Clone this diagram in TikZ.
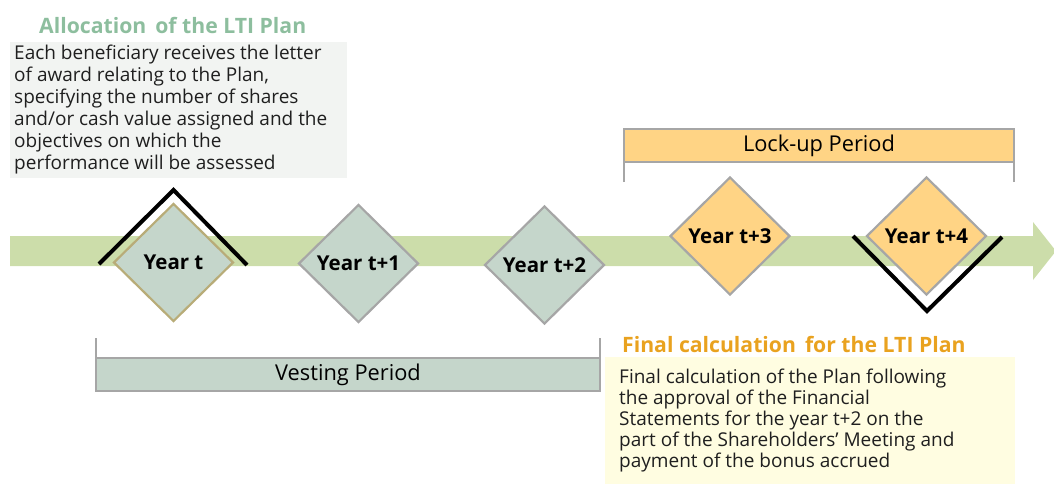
\documentclass[tikz,border=0pt]{standalone}
\usepackage{fontspec}
\setmainfont{Open Sans}
\usetikzlibrary{shapes.geometric}
\definecolor{bandgreen}{HTML}{CCDDAA}
\definecolor{dgreen}{HTML}{C5D6CB}
\definecolor{dorange}{HTML}{FFD485}
\definecolor{bordergray}{HTML}{A6A6A6}
\definecolor{tanborder}{HTML}{B8AC78}
\definecolor{titlegreen}{HTML}{8DBE9E}
\definecolor{titleorange}{HTML}{E9A21F}
\definecolor{graybox}{HTML}{F2F4F2}
\definecolor{yellowbox}{HTML}{FFFDE1}
\tikzset{
  yeardia/.style={diamond, draw=bordergray, line width=2.2pt, minimum width=120pt, minimum height=118pt, inner sep=0pt, font=\fontsize{20.5}{24}\selectfont\bfseries, text=black},
  bracket/.style={line width=4pt, black, line cap=butt, line join=miter},
  periodbar/.style={draw=bordergray, line width=2pt, inner sep=0pt, font=\fontsize{21.8}{24}\selectfont},
  body/.style={font=\fontsize{19}{22}\selectfont, inner sep=0pt, anchor=base west, text=black!88},
  ttl/.style={anchor=base west, inner sep=0pt, font=\fontsize{21.2}{24}\selectfont\bfseries},
}
\begin{document}
\begin{tikzpicture}[x=1pt,y=-1pt]
\useasboundingbox (0,0) rectangle (1054,485);
% arrow band
\fill[bandgreen] (10,236) -- (1033,236) -- (1033,222) -- (1056,251) -- (1033,280) -- (1033,266) -- (10,266) -- cycle;
% boxes
\fill[graybox] (10,42) rectangle (347,178);
\fill[yellowbox] (605,357) rectangle (1015,484);
% titles
\node[ttl, text=titlegreen] (t1) at (39,33) {Allocation\ \,of the LTI Plan};
\node[ttl, text=titleorange] (t2) at (622,352) {Final\ calculation\ \,for the LTI Plan};
% body texts
\node[body] (b11) at (14,59) {Each beneficiary receives the letter};
\node[body] (b12) at (14,81) {of award relating to the Plan,};
\node[body] (b13) at (14,103) {specifying the number of shares};
\node[body] (b14) at (14,125) {and/or cash value assigned and the};
\node[body] (b15) at (14,147) {objectives on which the};
\node[body] (b16) at (14,169) {performance will be assessed};
\node[body] (b21) at (619,383) {Final calculation of the Plan following};
\node[body] (b22) at (619,404) {the approval of the Financial};
\node[body] (b23) at (619,425) {Statements for the year t+2 on the};
\node[body] (b24) at (619,446) {part of the Shareholders’ Meeting and};
\node[body] (b25) at (619,467) {payment of the bonus accrued};
% lock-up period
\draw[bordergray, line width=2pt] (624,182) -- (624,129);
\draw[bordergray, line width=2pt] (1014,182) -- (1014,129);
\node[periodbar, fill=dorange, minimum width=390pt, minimum height=33pt] (lock) at (819,145.5) {Lock-up Period};
% vesting period
\draw[bordergray, line width=2pt] (96,338) -- (96,358);
\draw[bordergray, line width=2pt] (600,338) -- (600,358);
\node[periodbar, fill=dgreen, minimum width=504pt, minimum height=33pt] (vest) at (348,374.5) {Vesting Period};
% diamonds
\node[yeardia, fill=dgreen, draw=tanborder] (y0) at (173.5,262.5) {Year t};
\node[yeardia, fill=dgreen] (y1) at (358.5,263.5) {Year t+1};
\node[yeardia, fill=dgreen] (y2) at (544.5,265) {Year t+2};
\node[yeardia, fill=dorange] (y3) at (730,236) {Year t+3};
\node[yeardia, fill=dorange] (y4) at (926.5,236) {Year t+4};
% brackets
\coordinate (a1) at (99,264);
\coordinate (a2) at (173.5,190);
\coordinate (a3) at (247,265);
\draw[bracket] (a1) -- (a2) -- (a3);
\coordinate (c1) at (853,236);
\coordinate (c2) at (927,311);
\coordinate (c3) at (1002,237);
\draw[bracket] (c1) -- (c2) -- (c3);
\end{tikzpicture}
\end{document}
